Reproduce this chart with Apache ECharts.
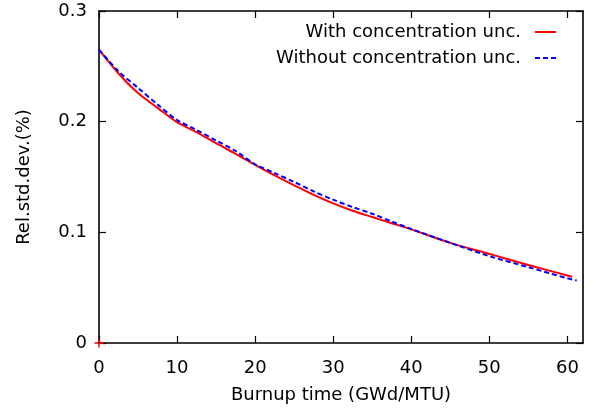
<!DOCTYPE html>
<html>
<head>
<meta charset="utf-8">
<script src="https://cdn.jsdelivr.net/npm/echarts@6/dist/echarts.min.js"></script>
<style>html,body{margin:0;padding:0;background:#fff;}#c{width:601px;height:416px;}</style>
</head>
<body>
<div id="c"></div>
<script>
var xWith = [0, 2.5, 5, 7.5, 10, 12.5, 15, 17.5, 20, 22.5, 25, 27.5, 30, 32.5, 35, 37.5, 40, 45, 50, 55, 60.6];
var yWith = [0.265, 0.2435, 0.2258, 0.2125, 0.1995, 0.1905, 0.1805, 0.171, 0.161, 0.1515, 0.1425, 0.1338, 0.1262, 0.1195, 0.1138, 0.1082, 0.1027, 0.0905, 0.0805, 0.0705, 0.0599];
var xWithout = [0, 2.5, 5, 7.5, 10, 12.5, 15, 17.5, 20, 22.5, 25, 27.5, 30, 32.5, 35, 37.5, 40, 45, 50, 55, 60, 61.2];
var yWithout = [0.265, 0.2455, 0.2305, 0.2155, 0.2015, 0.1925, 0.183, 0.1735, 0.1615, 0.1535, 0.1455, 0.137, 0.1295, 0.1228, 0.1168, 0.1098, 0.103, 0.0905, 0.0785, 0.0685, 0.0585, 0.0565];
var originMark = [[0, 0]];
var xTicks = [0, 10, 20, 30, 40, 50, 60];
var yTicks = [0, 0.1, 0.2, 0.3];
var seriesNames = ['With concentration unc.', 'Without concentration unc.'];

function pairs(xs, ys) { return xs.map(function (x, i) { return [x, ys[i]]; }); }

var font = 'DejaVu Sans';
var axisLine = { show: true, onZero: false, lineStyle: { color: '#000', width: 1.6 } };
var tick = function (vals) { return { inside: true, length: 7, customValues: vals, lineStyle: { color: '#000', width: 1.2 } }; };
var legendBase = {
  right: 39, orient: 'vertical', align: 'right', itemWidth: 21, itemHeight: 10,
  itemStyle: { color: 'rgba(0,0,0,0)', borderWidth: 0 },
  textStyle: { fontFamily: font, fontSize: 18, color: '#000', padding: [0, 9, 0, 0] }
};
var chart = echarts.init(document.getElementById('c'));
chart.setOption({
  animation: false,
  backgroundColor: '#fff',
  textStyle: { fontFamily: font },
  grid: { left: 99, right: 18, top: 11, bottom: 73 },
  legend: [
    Object.assign({}, legendBase, { data: [seriesNames[0]], top: 18 }),
    Object.assign({}, legendBase, { data: [seriesNames[1]], top: 44 })
  ],
  xAxis: [
    { type: 'value', min: 0, max: 62, interval: 10,
      name: 'Burnup time (GWd/MTU)', nameLocation: 'middle', nameGap: 43,
      nameTextStyle: { fontFamily: font, fontSize: 18, color: '#000' },
      axisLine: axisLine, axisTick: tick(xTicks),
      axisLabel: { margin: 16, fontSize: 18, color: '#000', fontFamily: font, customValues: xTicks },
      splitLine: { show: false } },
    { type: 'value', position: 'top', min: 0, max: 62, interval: 10,
      axisLine: axisLine, axisTick: tick(xTicks),
      axisLabel: { show: false }, splitLine: { show: false } }
  ],
  yAxis: [
    { type: 'value', min: 0, max: 0.3, interval: 0.1,
      name: 'Rel.std.dev.(%)', nameLocation: 'middle', nameGap: 66,
      nameTextStyle: { fontFamily: font, fontSize: 18, color: '#000' },
      axisLine: axisLine, axisTick: tick(yTicks),
      axisLabel: { margin: 12, fontSize: 18, color: '#000', fontFamily: font, customValues: yTicks,
        formatter: function (v) { return String(Math.round(v * 10) / 10); } },
      splitLine: { show: false } },
    { type: 'value', position: 'right', min: 0, max: 0.3, interval: 0.1,
      axisLine: axisLine, axisTick: tick(yTicks),
      axisLabel: { show: false }, splitLine: { show: false } }
  ],
  series: [
    { name: seriesNames[0], type: 'line', data: pairs(xWith, yWith), symbol: 'none', smooth: 0.3,
      lineStyle: { color: '#ff0000', width: 2 }, itemStyle: { color: '#ff0000' }, z: 3 },
    { name: seriesNames[1], type: 'line', data: pairs(xWithout, yWithout), symbol: 'none', smooth: 0.3,
      lineStyle: { color: '#0000ff', width: 2, type: [5, 3] }, itemStyle: { color: '#0000ff' }, z: 4 },
    { name: 'origin', type: 'scatter', data: originMark,
      symbol: 'path://M4,0H6V4H10V6H6V10H4V6H0V4H4Z', symbolSize: 9,
      itemStyle: { color: '#ff0000' }, z: 5, silent: true }
  ]
});
</script>
</body>
</html>
